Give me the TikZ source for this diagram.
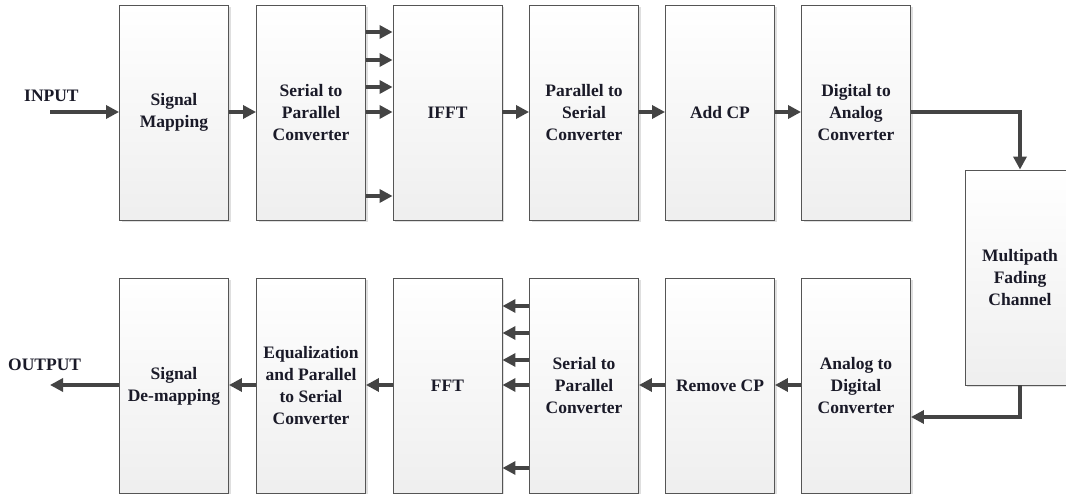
\documentclass[tikz,border=0pt]{standalone}
\usepackage{fontspec}
\setmainfont{Liberation Serif}
\usetikzlibrary{arrows.meta,shadows}
\definecolor{arrgray}{HTML}{444444}
\definecolor{boxline}{HTML}{555555}
\definecolor{txt}{HTML}{1A1A28}
\newfontfamily\boxfont{Liberation Serif}[BoldFont={Liberation Serif Bold}]
\tikzset{
  blk/.style={draw=boxline, line width=0.9pt, top color=white, bottom color=gray!13,
    minimum width=109pt, minimum height=215pt, inner sep=0pt, align=center,
    font=\boxfont\bfseries\fontsize{17.5}{22}\selectfont, text=txt,
    drop shadow={shadow xshift=2pt, shadow yshift=-2pt, opacity=0.25, fill=gray}},
  arr/.style={draw=arrgray, line width=4.5pt, -{Triangle[length=13pt,width=13pt]}},
  lbl/.style={font=\boxfont\bfseries\fontsize{17.5}{20}\selectfont, text=txt, inner sep=0pt}
}
\begin{document}
\begin{tikzpicture}[x=1pt,y=-1pt]
\useasboundingbox (0,0) rectangle (1066,494);
\clip (0,0) rectangle (1066,494);
\fill[white] (0,0) rectangle (1066,494);
% top row
\node[blk] (sm)   at (174,112.5) {Signal\\Mapping};
\node[blk] (sp)   at (311,112.5) {Serial to\\Parallel\\Converter};
\node[blk] (ifft) at (447.5,112.5) {IFFT};
\node[blk] (ps)   at (584,112.5) {Parallel to\\Serial\\Converter};
\node[blk] (cp)   at (720,112.5) {Add CP};
\node[blk] (da)   at (856,112.5) {Digital to\\Analog\\Converter};
% channel
\node[blk, minimum width=110pt] (ch) at (1020,277.5) {Multipath\\Fading\\Channel};
% bottom row
\node[blk] (dm)   at (174,386) {Signal\\De-mapping};
\node[blk] (eq)   at (311,386) {Equalization\\and Parallel\\to Serial\\Converter};
\node[blk] (fft)  at (447.5,386) {FFT};
\node[blk] (sp2)  at (584,386) {Serial to\\Parallel\\Converter};
\node[blk] (rcp)  at (720,386) {Remove CP};
\node[blk] (ad)   at (856,386) {Analog to\\Digital\\Converter};
% labels
\node[lbl, anchor=west] (inlbl) at (24,96) {INPUT};
\node[lbl, anchor=west] (outlbl) at (8,365) {OUTPUT};
\coordinate (in) at (50,112);
\coordinate (out) at (50,385);
\coordinate (c1) at (1020,112);
\coordinate (c2) at (1020,417);
% top arrows
\draw[arr] (in) -- (sm.west |- in);
\draw[arr] (sm.east |- 0,112) -- (sp.west |- 0,112);
\foreach \yy in {32,60,87,112,196} \draw[arr] (sp.east |- 0,\yy) -- (ifft.west |- 0,\yy);
\draw[arr] (ifft.east |- 0,112) -- (ps.west |- 0,112);
\draw[arr] (ps.east |- 0,112) -- (cp.west |- 0,112);
\draw[arr] (cp.east |- 0,112) -- (da.west |- 0,112);
\draw[arr] (da.east |- c1) -- (c1) -- (ch.north);
\draw[arr] (ch.south) -- (c2) -- (ad.east |- c2);
% bottom arrows
\draw[arr] (ad.west |- 0,385) -- (rcp.east |- 0,385);
\draw[arr] (rcp.west |- 0,385) -- (sp2.east |- 0,385);
\foreach \yy in {306,333,360,385,468} \draw[arr] (sp2.west |- 0,\yy) -- (fft.east |- 0,\yy);
\draw[arr] (fft.west |- 0,385) -- (eq.east |- 0,385);
\draw[arr] (eq.west |- 0,385) -- (dm.east |- 0,385);
\draw[arr] (dm.west |- out) -- (out);
\end{tikzpicture}
\end{document}
